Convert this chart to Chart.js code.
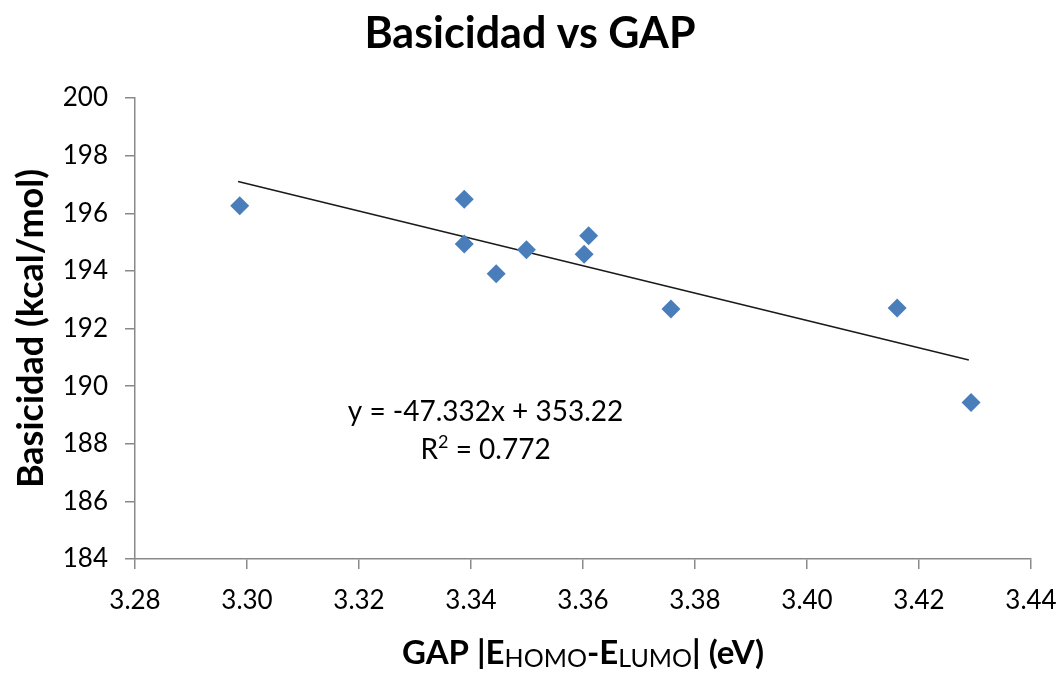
<!DOCTYPE html>
<html>
<head>
<meta charset="utf-8">
<script src="https://cdn.jsdelivr.net/npm/chart.js@4/dist/chart.umd.min.js"></script>
<style>
  html, body { margin: 0; padding: 0; background: #fff; }
  #wrap { width: 1060px; height: 675px; }
</style>
</head>
<body>
<div id="wrap"><canvas id="chart" width="1060" height="675"></canvas></div>
<script>
// data
const gapValues = [3.2987, 3.3388, 3.3388, 3.3445, 3.3499, 3.3602, 3.3610, 3.3757, 3.4161, 3.4293];
const basicidadValues = [196.26, 196.49, 194.93, 193.90, 194.73, 194.58, 195.22, 192.68, 192.71, 189.43];

// linear trendline endpoints (as drawn in the reference)
const trendX = [3.2984, 3.4289];
const trendY = [197.10, 190.91];

const xTicks = [3.28, 3.30, 3.32, 3.34, 3.36, 3.38, 3.40, 3.42, 3.44];
const yTicks = [184, 186, 188, 190, 192, 194, 196, 198, 200];

const equationText = 'y = -47.332x + 353.22';
const r2Value = '0.772';
// where the equation label sits, in data units
const labelPos = { x: 3.3426, y1: 189.11, y2: 187.79 };

const FONT = 'Lato, "Open Sans", sans-serif';
const axisGray = '#898989';

// draws title, x-axis title with subscripts and the trendline label
const textPlugin = {
  id: 'texts',
  afterDraw(chart) {
    const ctx = chart.ctx;
    const xs = chart.scales.x, ys = chart.scales.y;
    const area = chart.chartArea;
    ctx.save();
    ctx.fillStyle = '#000';
    ctx.textBaseline = 'middle';

    // main title
    ctx.font = 'bold 43px ' + FONT;
    ctx.textAlign = 'center';
    ctx.fillText('Basicidad vs GAP', chart.width / 2, 34);

    // x axis title: GAP |E_HOMO - E_LUMO| (eV)
    const parts = [
      { t: 'GAP |E', sub: false },
      { t: 'HOMO', sub: true },
      { t: '-E', sub: false },
      { t: 'LUMO', sub: true },
      { t: '| (eV)', sub: false }
    ];
    const bigFont = 'bold 33px ' + FONT;
    const subFont = '25px ' + FONT;
    let total = 0;
    parts.forEach(p => {
      ctx.font = p.sub ? subFont : bigFont;
      p.w = ctx.measureText(p.t).width;
      total += p.w;
    });
    let cx = (area.left + area.right) / 2 - total / 2;
    const baseY = 664;
    ctx.textAlign = 'left';
    ctx.textBaseline = 'alphabetic';
    parts.forEach(p => {
      ctx.font = p.sub ? subFont : bigFont;
      ctx.fillText(p.t, cx, p.sub ? baseY + 3 : baseY);
      cx += p.w;
    });

    // trendline equation
    ctx.textBaseline = 'middle';
    ctx.textAlign = 'center';
    ctx.font = '28px ' + FONT;
    const lx = xs.getPixelForValue(labelPos.x);
    ctx.fillText(equationText, lx, ys.getPixelForValue(labelPos.y1));
    // R² line with a superscript 2
    const y2 = ys.getPixelForValue(labelPos.y2);
    const a = 'R', b = '2', c = ' = ' + r2Value;
    const wa = ctx.measureText(a).width, wc = ctx.measureText(c).width;
    ctx.font = '18px ' + FONT;
    const wb = ctx.measureText(b).width;
    let sx = lx - (wa + wb + wc) / 2;
    ctx.textAlign = 'left';
    ctx.font = '28px ' + FONT;
    ctx.fillText(a, sx, y2);
    ctx.font = '18px ' + FONT;
    ctx.fillText(b, sx + wa, y2 - 8);
    ctx.font = '28px ' + FONT;
    ctx.fillText(c, sx + wa + wb, y2);
    ctx.restore();
  }
};

const ctx = document.getElementById('chart').getContext('2d');
new Chart(ctx, {
  type: 'scatter',
  data: {
    datasets: [
      {
        label: 'Basicidad',
        data: gapValues.map((g, i) => ({ x: g, y: basicidadValues[i] })),
        pointStyle: 'rectRot',
        pointRadius: 9.5,
        pointHoverRadius: 9.5,
        backgroundColor: '#4A7EBB',
        borderWidth: 0,
        order: 1
      },
      {
        type: 'line',
        label: 'Lineal',
        data: trendX.map((x, i) => ({ x: x, y: trendY[i] })),
        borderColor: '#1a1a1a',
        borderWidth: 1.6,
        pointRadius: 0,
        fill: false,
        order: 2
      }
    ]
  },
  options: {
    responsive: false,
    animation: false,
    layout: { padding: { top: 98, right: 29, left: 0, bottom: 0 } },
    plugins: {
      legend: { display: false },
      title: { display: false },
      tooltip: { enabled: false }
    },
    scales: {
      x: {
        type: 'linear',
        min: 3.28,
        max: 3.44,
        afterBuildTicks: s => { s.ticks = xTicks.map(v => ({ value: v })); },
        afterFit: s => { s.height = 116; s.paddingLeft = 0; s.paddingRight = 0; },
        ticks: {
          color: '#000',
          font: { family: FONT, size: 26 },
          padding: 16,
          callback: v => v.toFixed(2)
        },
        grid: { drawOnChartArea: false, tickLength: 10, color: axisGray, lineWidth: 1.5 },
        border: { color: axisGray, width: 1.5 }
      },
      y: {
        type: 'linear',
        min: 184,
        max: 200,
        afterBuildTicks: s => { s.ticks = yTicks.map(v => ({ value: v })); },
        afterFit: s => { s.width = 135; s.paddingTop = 0; s.paddingBottom = 0; },
        ticks: {
          color: '#000',
          font: { family: FONT, size: 26 },
          padding: 17,
          callback: v => String(v)
        },
        grid: { drawOnChartArea: false, tickLength: 10, color: axisGray, lineWidth: 1.5 },
        border: { color: axisGray, width: 1.5 },
        title: {
          display: true,
          text: 'Basicidad (kcal/mol)',
          color: '#000',
          font: { family: FONT, size: 36, weight: 'bold' },
          padding: { top: 10, bottom: 0 }
        }
      }
    }
  },
  plugins: [textPlugin]
});
</script>
</body>
</html>
